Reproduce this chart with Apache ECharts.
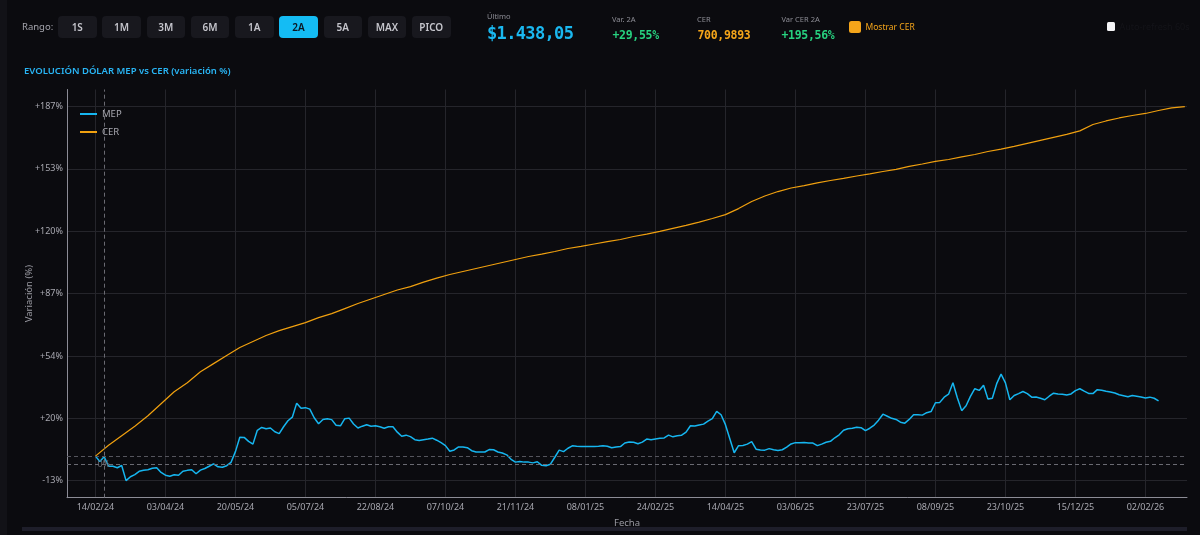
<!DOCTYPE html>
<html>
<head>
<meta charset="utf-8">
<script src="https://cdn.jsdelivr.net/npm/echarts@6/dist/echarts.min.js"></script>
<style>
html,body{margin:0;padding:0;background:#0b0b0f;width:1200px;height:535px;overflow:hidden;font-family:'Noto Sans',sans-serif;}
#chart{position:absolute;left:0;top:0;width:1200px;height:535px;}
.h{position:absolute;white-space:nowrap;z-index:2;}
.btn{position:absolute;top:16px;width:38.5px;height:22px;line-height:22px;text-align:center;background:#18181e;border-radius:4px;color:#c5c5cc;font-size:10px;font-weight:600;z-index:2;}
.btn.act{background:#14bcf4;color:#0b1520;}
.lbl{font-size:7.5px;color:#8d8d95;height:10px;line-height:10px;}
.mono{font-family:'DejaVu Sans Mono',monospace;font-weight:bold;}
</style>
</head>
<body>
<div class="h" style="left:0;top:0;width:7px;height:535px;background:#121217;position:absolute;"></div>
<div class="h" style="left:22px;top:527px;width:1165px;height:4px;background:#1e1e2a;"></div>
<div class="h" style="left:22px;top:20px;font-size:9.5px;color:#a5a5ad;line-height:14px;">Rango:</div>
<div class="btn" style="left:58px">1S</div>
<div class="btn" style="left:102.2px">1M</div>
<div class="btn" style="left:146.5px">3M</div>
<div class="btn" style="left:190.7px">6M</div>
<div class="btn" style="left:235px">1A</div>
<div class="btn act" style="left:279.2px">2A</div>
<div class="btn" style="left:323.5px">5A</div>
<div class="btn" style="left:367.7px">MAX</div>
<div class="btn" style="left:412px">PICO</div>
<div class="h lbl" style="left:487px;top:11px;">Último</div>
<div class="h mono" style="left:487px;top:22px;font-size:17px;line-height:22px;letter-spacing:-0.65px;color:#1ab8f0;">$1.438,05</div>
<div class="h lbl" style="left:612px;top:14px;">Var. 2A</div>
<div class="h mono" style="left:612.5px;top:28px;font-size:11.5px;line-height:14px;letter-spacing:-0.3px;color:#27d17f;">+29,55%</div>
<div class="h lbl" style="left:697px;top:14px;">CER</div>
<div class="h mono" style="left:697.5px;top:28px;font-size:11.5px;line-height:14px;letter-spacing:-0.3px;color:#f5a51a;">700,9893</div>
<div class="h lbl" style="left:781.5px;top:14px;">Var CER 2A</div>
<div class="h mono" style="left:781.5px;top:28px;font-size:11.5px;line-height:14px;letter-spacing:-0.3px;color:#27d17f;">+195,56%</div>
<div class="h" style="left:849px;top:21px;width:12px;height:12px;border-radius:2.5px;background:#f5a51a;"></div>
<div class="h" style="left:865.5px;top:20px;font-size:8.5px;line-height:14px;color:#f5a51a;">Mostrar CER</div>
<div class="h" style="left:1106.5px;top:22px;width:8.5px;height:8.5px;border-radius:1.5px;background:#f4f4f6;"></div>
<div class="h" style="left:1119.5px;top:20px;font-size:9px;line-height:14px;color:#141419;">Auto-refresh 60s</div>
<div id="chart"></div>
<script>
// ---- data ----
const tickDates = ['14/02/24','03/04/24','20/05/24','05/07/24','22/08/24','07/10/24','21/11/24','08/01/25',
  '24/02/25','14/04/25','03/06/25','23/07/25','08/09/25','23/10/25','15/12/25','02/02/26'];
const lastDate = '04/03/26';
const holidays = ['2024-03-28','2024-03-29','2024-04-01','2024-04-02','2024-05-01','2024-06-17','2024-06-20',
  '2024-06-21','2024-07-09','2024-10-11','2024-11-18','2024-12-25','2025-01-01','2025-03-03','2025-03-04',
  '2025-03-24','2025-04-02','2025-04-17','2025-04-18','2025-05-01','2025-05-02','2025-06-16','2025-06-20',
  '2025-07-09','2025-08-15','2025-10-10','2025-11-21','2025-11-24','2025-12-08','2025-12-25','2026-01-01',
  '2026-02-16','2026-02-17'];
const pointsPerTick = 16;
const pointsLastSegment = 10;

const mepValues = [
  0, -2.9, -0.3, -5.4, -5.4, -6.2, -5.0, -13.1, -11.0, -9.9, -8.1, -7.5, -7.3, -6.5, -6.2, -8.7,
  -10.2, -10.7, -9.9, -10.2, -8.1, -7.6, -7.3, -9.4, -7.5, -6.6, -5.4, -4.1, -5.7, -5.9, -5.1, -3.3,
  2.4, 10.1, 10.0, 7.9, 6.4, 13.8, 15.3, 14.6, 15.0, 13.0, 12.0, 15.7, 18.9, 20.8, 28.3, 25.6,
  25.9, 25.1, 20.5, 17.3, 19.6, 20.0, 19.5, 16.5, 16.2, 20.0, 20.3, 17.2, 15.0, 16.0, 16.8, 16.0,
  16.2, 15.7, 14.9, 15.7, 15.7, 12.8, 10.6, 11.2, 10.4, 8.8, 8.4, 8.8, 9.1, 9.6, 8.5, 7.2,
  5.6, 2.6, 3.3, 4.9, 4.9, 4.5, 2.9, 2.2, 2.2, 2.2, 3.5, 3.4, 2.2, 1.7, 0.7, -1.7,
  -3.2, -2.9, -3.2, -3.2, -3.6, -3.0, -4.9, -5.1, -4.3, -0.6, 3.2, 2.4, 4.2, 5.5, 5.3, 5.2,
  5.2, 5.2, 5.2, 5.3, 5.5, 5.3, 4.5, 4.9, 5.1, 7.0, 7.5, 7.4, 6.6, 7.5, 9.1, 8.8,
  9.2, 9.5, 9.7, 11.2, 10.3, 10.9, 11.2, 12.8, 16.2, 16.1, 16.6, 17.1, 18.7, 20.0, 23.9, 22.1,
  16.8, 9.3, 1.8, 5.6, 5.7, 6.4, 7.7, 3.7, 3.3, 3.2, 4.0, 3.4, 3.0, 3.4, 4.8, 6.5,
  7.2, 7.1, 7.3, 7.0, 7.0, 5.6, 6.4, 7.4, 7.9, 9.8, 11.4, 13.8, 14.6, 14.9, 15.4, 15.2,
  13.6, 14.9, 16.6, 19.2, 22.4, 21.3, 20.2, 19.6, 18.1, 17.6, 19.6, 22.1, 22.1, 21.9, 23.2, 23.8,
  28.5, 28.7, 31.5, 33.1, 39.2, 31.2, 24.3, 26.9, 31.9, 36.0, 35.1, 37.9, 30.5, 30.9, 38.7, 43.8,
  39.1, 30.1, 32.4, 33.4, 34.5, 33.4, 31.5, 31.6, 30.9, 30.1, 32.0, 33.6, 33.2, 33.0, 32.6, 33.2,
  35.0, 36.0, 34.7, 33.5, 33.4, 35.5, 35.2, 34.7, 34.3, 33.7, 32.8, 32.3, 31.7, 32.4, 32.0, 31.6,
  31.1, 31.5, 30.9, 29.55
];

// CER sampled every 3rd point
const cerStep = 3;
const cerValues = [
  0.0, 5.8, 10.9, 16.0, 21.6, 28.0, 34.4, 39.2, 45.1, 49.4,
  53.7, 58.0, 61.2, 64.4, 67.0, 69.2, 71.3, 74.0, 76.1, 78.8,
  81.5, 83.9, 86.3, 88.7, 90.5, 92.9, 95.1, 97.0, 98.6, 100.2,
  101.8, 103.4, 105.0, 106.6, 107.9, 109.3, 110.9, 112.0, 113.3, 114.6,
  115.7, 117.3, 118.6, 120.0, 121.6, 123.2, 125.0, 126.9, 129.0, 132.2,
  136.0, 138.9, 141.3, 143.2, 144.5, 145.9, 147.2, 148.3, 149.6, 150.7,
  152.0, 153.1, 154.7, 156.0, 157.4, 158.4, 159.8, 161.1, 162.7, 164.0,
  165.4, 167.0, 168.6, 170.2, 171.8, 173.7, 177.1, 179.0, 180.6, 181.9,
  183.0, 184.6, 186.0, 186.7
];

const yTickValues = [-13.1, 20.2, 53.5, 86.8, 120.1, 153.4, 186.7];
const yTickLabels = ['-13%', '+20%', '+54%', '+87%', '+120%', '+153%', '+187%'];
const yRange = [-22.2, 195.8];
const crosshair = { xIndex: 2.4, yValue: -4.1 };

// ---- build categories (trading days) ----
const DAY = 86400000;
const holidaySet = new Set(holidays);
function parseD(s) { const [d, m, y] = s.split('/').map(Number); return Date.UTC(2000 + y, m - 1, d); }
function pad2(n) { return (n < 10 ? '0' : '') + n; }
function fmtD(t) { const d = new Date(t); return pad2(d.getUTCDate()) + '/' + pad2(d.getUTCMonth() + 1) + '/' + String(d.getUTCFullYear()).slice(2); }
function tradingDays(a, b) {
  const out = [];
  for (let t = a; t < b; t += DAY) {
    const d = new Date(t); const wd = d.getUTCDay();
    if (wd === 0 || wd === 6) continue;
    if (holidaySet.has(d.toISOString().slice(0, 10))) continue;
    out.push(t);
  }
  return out;
}
const dates = [];
for (let s = 0; s < tickDates.length; s++) {
  const end = s + 1 < tickDates.length ? parseD(tickDates[s + 1]) : parseD(lastDate);
  const n = s + 1 < tickDates.length ? pointsPerTick : pointsLastSegment;
  const days = tradingDays(parseD(tickDates[s]), end);
  for (let j = 0; j < n; j++) dates.push(fmtD(days[Math.floor(j * days.length / n)]));
}
const PAD = 6; // empty leading slots before first date
const categories = Array(PAD).fill('').concat(dates);
const mepData = Array(PAD).fill(null).concat(mepValues);
const cerData = cerValues.map((v, m) => [PAD + m * cerStep, v]);
const showTick = (idx) => idx >= PAD && (idx - PAD) % pointsPerTick === 0;

const chart = echarts.init(document.getElementById('chart'), null, { renderer: 'canvas' });
const gridLine = '#25252b';
chart.setOption({
  animation: false,
  backgroundColor: 'transparent',
  textStyle: { fontFamily: 'Noto Sans' },
  title: {
    text: 'EVOLUCIÓN DÓLAR MEP vs CER (variación %)',
    left: 24, top: 66, padding: 0,
    textStyle: { color: '#29b6f6', fontSize: 9.5, fontWeight: 600, fontFamily: 'Noto Sans' }
  },
  legend: {
    data: ['MEP', 'CER'], orient: 'vertical', left: 80, top: 108, padding: 0,
    icon: 'rect', itemWidth: 17, itemHeight: 2, itemGap: 6,
    textStyle: { color: '#a8a8b0', fontSize: 9.5, lineHeight: 12 }
  },
  grid: { left: 67, right: 13, top: 89.5, bottom: 37.3, containLabel: false, outerBoundsMode: 'none' },
  xAxis: {
    type: 'category', data: categories, boundaryGap: true,
    name: 'Fecha', nameLocation: 'middle', nameGap: 21,
    nameTextStyle: { color: '#9a9aa2', fontSize: 9.5 },
    axisLine: { onZero: false, lineStyle: { color: '#8c8c96', width: 1 } },
    axisTick: { show: false },
    axisLabel: { interval: showTick, color: '#a8a8b0', fontSize: 9, margin: 5 },
    splitLine: { show: true, interval: showTick, alignWithLabel: true, lineStyle: { color: gridLine, width: 1 } }
  },
  yAxis: {
    type: 'value', min: yRange[0], max: yRange[1],
    name: 'Variación (%)', nameLocation: 'middle', nameGap: 33, nameMoveOverlap: false,
    nameTextStyle: { color: '#9a9aa2', fontSize: 9.5 },
    axisLine: { show: true, lineStyle: { color: '#8c8c96', width: 1 } },
    axisTick: { show: false, customValues: yTickValues },
    axisLabel: {
      customValues: yTickValues, color: '#a8a8b0', fontSize: 9, margin: 4,
      formatter: (v) => {
        let best = 0;
        yTickValues.forEach((t, k) => { if (Math.abs(t - v) < Math.abs(yTickValues[best] - v)) best = k; });
        return yTickLabels[best];
      }
    },
    splitLine: { show: true, lineStyle: { color: gridLine, width: 1 } }
  },
  series: [
    {
      name: 'MEP', type: 'line', data: mepData, showSymbol: false, symbol: 'none',
      lineStyle: { color: '#16b6f0', width: 1.5 }, itemStyle: { color: '#16b6f0' }, z: 3,
      markLine: {
        silent: true, symbol: 'none', label: { show: false }, animation: false,
        data: [
          { yAxis: 0, lineStyle: { color: '#55555d', type: [4, 3], width: 1 } },
          { yAxis: crosshair.yValue, lineStyle: { color: '#6a6a72', type: [4, 3], width: 1 } },
          { xAxis: PAD + crosshair.xIndex, lineStyle: { color: '#6a6a72', type: [4, 3], width: 1 } }
        ]
      },
      markPoint: {
        silent: true, symbol: 'circle', symbolSize: 0, animation: false,
        data: [{ coord: [PAD, 0], value: 0 }],
        label: { show: true, formatter: '0%', position: [2, 4], color: '#6a6a72', fontSize: 9, align: 'left', verticalAlign: 'top' }
      }
    },
    {
      name: 'CER', type: 'line', data: cerData, showSymbol: false, symbol: 'none',
      lineStyle: { color: '#f0a00f', width: 1.2 }, itemStyle: { color: '#f0a00f' }, z: 2
    }
  ]
});
</script>
</body>
</html>
